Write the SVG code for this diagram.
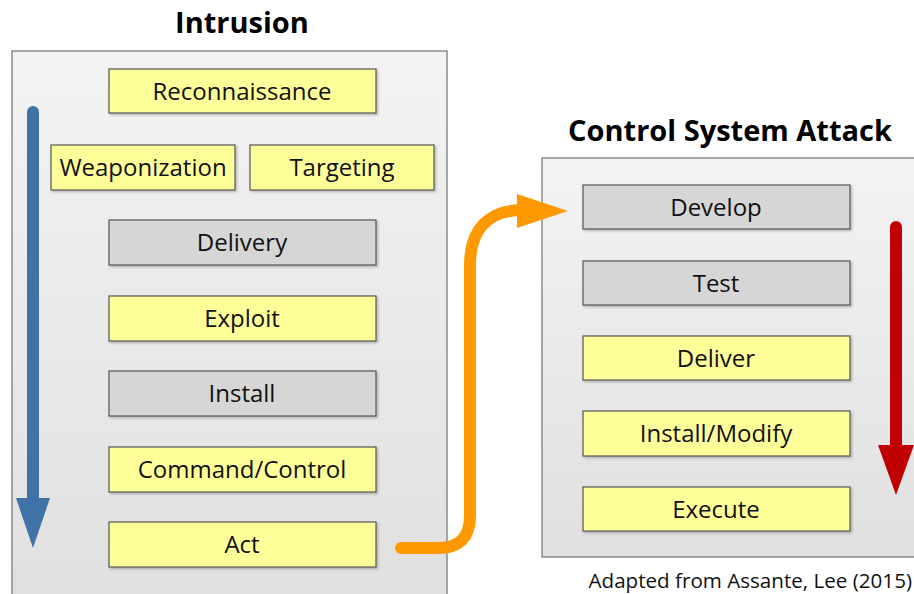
<svg xmlns="http://www.w3.org/2000/svg" width="914" height="594" viewBox="0 0 914 594">
<defs>
<linearGradient id="pg" x1="0" y1="0" x2="0" y2="1">
<stop offset="0" stop-color="#f3f3f3"/><stop offset="1" stop-color="#e0e0e0"/>
</linearGradient>
<filter id="sh" x="-5%" y="-10%" width="115%" height="130%"><feDropShadow dx="1.5" dy="1.5" stdDeviation="1" flood-color="#000" flood-opacity="0.25"/></filter>
</defs>
<style>
.panel{fill:url(#pg);stroke:#707070;stroke-width:1.2}
.y{fill:#ffff99;stroke:#555;stroke-width:1.2;filter:url(#sh)}
.g{fill:#d6d6d6;stroke:#555;stroke-width:1.2;filter:url(#sh)}
.t{font-family:"Open Sans","Liberation Sans",sans-serif;font-size:24px;fill:#111;text-anchor:middle}
.h{font-family:"Open Sans","Liberation Sans",sans-serif;font-size:29px;font-weight:bold;fill:#000;text-anchor:middle}
</style>
<rect x="0" y="0" width="914" height="594" fill="#fff"/>
<text class="h" x="242" y="33">Intrusion</text>
<text class="h" x="730" y="141">Control System Attack</text>
<g id="intrusion-panel"><rect class="panel" x="12" y="51" width="435" height="560"/></g>
<g id="cs-panel"><rect class="panel" x="542" y="158" width="390" height="399"/></g>
<g id="reconnaissance"><rect class="y" x="109" y="69" width="267" height="44"/><text class="t" x="242" y="100">Reconnaissance</text></g>
<g id="weaponization"><rect class="y" x="51" y="145" width="184" height="45"/><text class="t" x="143" y="176">Weaponization</text></g>
<g id="targeting"><rect class="y" x="250" y="145" width="184" height="45"/><text class="t" x="342" y="176">Targeting</text></g>
<g id="delivery"><rect class="g" x="109" y="220" width="267" height="45"/><text class="t" x="242" y="251">Delivery</text></g>
<g id="exploit"><rect class="y" x="109" y="296" width="267" height="45"/><text class="t" x="242" y="327">Exploit</text></g>
<g id="install"><rect class="g" x="109" y="371" width="267" height="45"/><text class="t" x="242" y="402">Install</text></g>
<g id="command-control"><rect class="y" x="109" y="447" width="267" height="45"/><text class="t" x="242" y="478">Command/Control</text></g>
<g id="act"><rect class="y" x="109" y="522" width="267" height="45"/><text class="t" x="242" y="553">Act</text></g>
<g id="develop"><rect class="g" x="583" y="185" width="267" height="44"/><text class="t" x="716" y="216">Develop</text></g>
<g id="test"><rect class="g" x="583" y="261" width="267" height="44"/><text class="t" x="716" y="292">Test</text></g>
<g id="deliver"><rect class="y" x="583" y="336" width="267" height="44"/><text class="t" x="716" y="367">Deliver</text></g>
<g id="install-modify"><rect class="y" x="583" y="411" width="267" height="45"/><text class="t" x="716" y="442">Install/Modify</text></g>
<g id="execute"><rect class="y" x="583" y="487" width="267" height="44"/><text class="t" x="716" y="518">Execute</text></g>
<g id="connectors">
<path d="M33,112 V500" stroke="#3f72a6" stroke-width="12" stroke-linecap="round" fill="none"/>
<polygon points="16,498 50,498 33,548" fill="#3f72a6"/>
<path d="M896,227 V447" stroke="#c00000" stroke-width="12" stroke-linecap="round" fill="none"/>
<polygon points="878,445 914,445 896,495" fill="#c00000"/>
<path d="M401,548 H438 Q470,548 470,516 V265 C470,228 490,211 520,210" stroke="#ff9900" stroke-width="12" stroke-linecap="round" fill="none"/>
<polygon points="517,194 568,211 517,228" fill="#ff9900"/>
</g>
<text x="912" y="588" font-family="Open Sans, Liberation Sans, sans-serif" font-size="20.6" fill="#111" text-anchor="end">Adapted from Assante, Lee (2015)</text>
</svg>
